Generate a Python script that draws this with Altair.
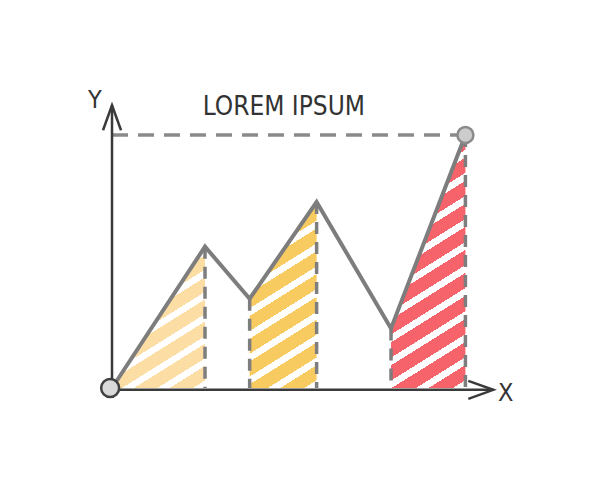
import math
import altair as alt
import pandas as pd

# ---- data (chart units) ----
line_x = [0.0, 2.5, 3.7, 5.5, 7.5, 9.5]
line_y = [0.0, 3.8, 2.4, 5.0, 1.6, 6.8]

# shaded segments: (start x, end x, colour)
seg_start = [0.0, 3.7, 7.5]
seg_end = [2.5, 5.5, 9.5]
seg_color = ["#FCDDA4", "#F8CB60", "#F7636A"]

# dashed drop lines
drop_x = [2.5, 3.7, 5.5, 7.5, 9.5]

# reference level (dashed horizontal) and end-point markers
ref_level = 6.8
ref_end_x = 9.5

title_text = "LOREM IPSUM"
x_label = "X"
y_label = "Y"

# ---- layout ----
W, H = 584, 479
XMIN, XMAX = -2.796, 12.903
YMIN, YMAX = -2.661, 10.215
PX = W / (XMAX - XMIN)  # pixels per unit
Y_AXIS_TOP = 7.6
X_AXIS_END = 10.25
FONT = "DejaVu Sans Condensed, DejaVu Sans, sans-serif"

xs = alt.Scale(domain=[XMIN, XMAX], nice=False, zero=False)
ys = alt.Scale(domain=[YMIN, YMAX], nice=False, zero=False)


def X(f="x"):
    return alt.X(f"{f}:Q", scale=xs, axis=None)


def Y(f="y"):
    return alt.Y(f"{f}:Q", scale=ys, axis=None)


def stripes(color, w, h, period=19.0, ang=32.0, frac=0.66):
    t = math.tan(math.radians(ang))
    a = t * w / h
    b = 1.0
    k = (a + b) / (a * a + b * b)
    th = math.radians(ang)
    extent = w * math.sin(th) + h * math.cos(th)
    n = max(1, int(round(extent / period)))
    stops = []
    for i in range(n):
        o0 = i / n
        o1 = (i + frac) / n
        o2 = (i + 1) / n
        stops += [
            alt.GradientStop(color=color, offset=o0),
            alt.GradientStop(color=color, offset=o1),
            alt.GradientStop(color="#FFFFFF", offset=o1),
            alt.GradientStop(color="#FFFFFF", offset=o2),
        ]
    return alt.Gradient(gradient="linear", stops=stops, x1=0, y1=0, x2=a * k, y2=b * k)


df_line = pd.DataFrame({"x": line_x, "y": line_y})

layers = []
for s, e, c in zip(seg_start, seg_end, seg_color):
    sub = df_line[(df_line.x >= s) & (df_line.x <= e)]
    w = (e - s) * PX
    h = sub.y.max() * PX
    layers.append(
        alt.Chart(sub).mark_area(color=stripes(c, w, h), line=False).encode(x=X(), y=Y(), y2=alt.datum(0))
    )

df_drop = df_line[df_line.x.isin(drop_x)].assign(y0=0.0)
layers.append(
    alt.Chart(df_drop).mark_rule(color="#7E7E7E", strokeWidth=3.5, strokeDash=[12, 8])
    .encode(x=X(), y=Y(), y2="y0:Q")
)

df_ref = pd.DataFrame({"x": [0.0], "x2": [ref_end_x], "y": [ref_level]})
layers.append(
    alt.Chart(df_ref).mark_rule(color="#8A8A8A", strokeWidth=3.5, strokeDash=[16, 10])
    .encode(x=X(), x2="x2:Q", y=Y())
)

layers.append(
    alt.Chart(df_line).mark_line(color="#7D7D7D", strokeWidth=4, strokeJoin="miter")
    .encode(x=X(), y=Y(), order="x:Q")
)

# axes
df_yax = pd.DataFrame({"x": [0.0], "y": [-0.05], "y2": [Y_AXIS_TOP]})
layers.append(
    alt.Chart(df_yax).mark_rule(color="#3A3A3A", strokeWidth=2.5).encode(x=X(), y=Y(), y2="y2:Q")
)
df_xax = pd.DataFrame({"x": [-0.1], "x2": [X_AXIS_END], "y": [-0.05]})
layers.append(
    alt.Chart(df_xax).mark_rule(color="#3A3A3A", strokeWidth=2.5).encode(x=X(), x2="x2:Q", y=Y())
)

arrow_path = "M -0.36 1 L 0 0 L 0.36 1"
df_arr = pd.DataFrame({"x": [0.0, X_AXIS_END], "y": [Y_AXIS_TOP, -0.05], "ang": [0, 90]})
layers.append(
    alt.Chart(df_arr).mark_point(shape=arrow_path, size=2500, filled=False, color="#3A3A3A",
                                 strokeWidth=2.5, opacity=1, strokeJoin="miter")
    .encode(x=X(), y=Y(), angle=alt.Angle("ang:Q", scale=None))
)

# end-point markers
df_c1 = pd.DataFrame({"x": [-0.05], "y": [0.0]})
layers.append(
    alt.Chart(df_c1).mark_point(shape="circle", size=324, filled=True, fill="#D9D9D9",
                                stroke="#404040", strokeWidth=2.5, opacity=1)
    .encode(x=X(), y=Y())
)
df_c2 = pd.DataFrame({"x": [ref_end_x], "y": [ref_level]})
layers.append(
    alt.Chart(df_c2).mark_point(shape="circle", size=256, filled=True, fill="#CCCCCC",
                                stroke="#8A8A8A", strokeWidth=2.5, opacity=1)
    .encode(x=X(), y=Y())
)

# texts
df_txt = pd.DataFrame({
    "x": [4.62, -0.46, 10.58],
    "y": [7.55, 7.74, -0.13],
    "t": [title_text, y_label, x_label],
    "s": [26, 25, 25],
})
layers.append(
    alt.Chart(df_txt).mark_text(font=FONT, color="#333333", baseline="middle", align="center")
    .encode(x=X(), y=Y(), text="t:N", size=alt.Size("s:Q", scale=None))
)

chart = alt.layer(*layers).properties(
    width=W, height=H, padding=0, autosize=alt.AutoSizeParams(type="none"), background="white"
).configure_view(strokeWidth=0)

chart.save("out.html", embed_options={"renderer": "svg", "actions": False})
